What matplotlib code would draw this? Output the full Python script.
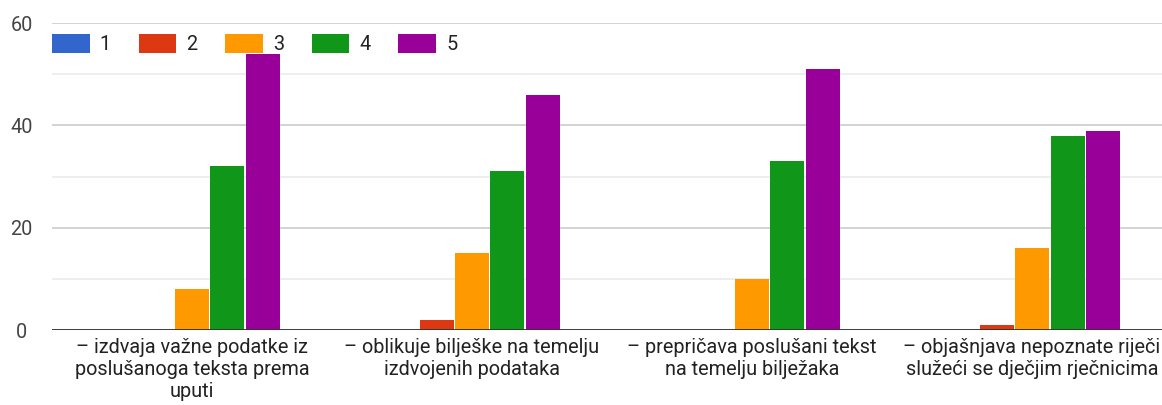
import matplotlib.pyplot as plt
import numpy as np

plt.rcParams['font.family'] = ['Roboto', 'DejaVu Sans']

kategorije = ['– izdvaja važne podatke iz\nposlušanoga teksta prema\nuputi',
              '– oblikuje bilješke na temelju\nizdvojenih podataka',
              '– prepričava poslušani tekst\nna temelju bilježaka',
              '– objašnjava nepoznate riječi\nslužeći se dječjim rječnicima']
ocjene = ['1', '2', '3', '4', '5']
vrijednosti = {
    '1': [0, 0, 0, 0],
    '2': [0, 2, 0, 1],
    '3': [8, 15, 10, 16],
    '4': [32, 31, 33, 38],
    '5': [54, 46, 51, 39],
}
boje = ['#3366cc', '#dc3912', '#ff9900', '#109618', '#990099']

fig = plt.figure(figsize=(11.62, 4.05), dpi=100)
# desni rub osi izlazi malo izvan slike, kao na predlošku
ax = fig.add_axes([0.0447, 0.185, 0.964, 0.758])

x = np.arange(len(kategorije))
korak = 0.1265
for i, ocj in enumerate(ocjene):
    ax.bar(x + (i - 2) * korak, vrijednosti[ocj], width=korak * 0.96,
           color=boje[i], label=ocj, zorder=3)

ax.set_xlim(-0.5, 3.5)
ax.set_ylim(0, 60)
ax.set_yticks([0, 20, 40, 60])
ax.set_yticks([10, 30, 50], minor=True)
ax.grid(axis='y', which='major', color='#cccccc', lw=1.2, zorder=0)
ax.grid(axis='y', which='minor', color='#ebebeb', lw=1.2, zorder=0)
ax.axhline(0, color='#333333', lw=1.3, zorder=4)
for s in ax.spines.values():
    s.set_visible(False)
ax.tick_params(axis='y', which='both', length=0, labelsize=14.3,
               labelcolor='#444444', pad=22)
ax.tick_params(axis='x', length=0, labelsize=14.3, labelcolor='#222222', pad=6)
ax.set_xticks(x)
ax.set_xticklabels(kategorije, linespacing=1.2)
for lab in ax.get_yticklabels():
    lab.set_horizontalalignment('center')

ax.legend(loc='upper left', bbox_to_anchor=(0, 0.965), ncol=5,
          frameon=False, fontsize=14.3, handlelength=1.9, handleheight=1.07,
          handletextpad=0.5, columnspacing=1.4, borderaxespad=0, borderpad=0,
          labelcolor='#222222')

fig.savefig('out.png', dpi=100)
